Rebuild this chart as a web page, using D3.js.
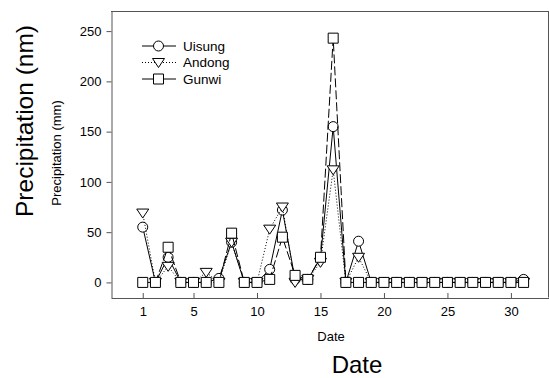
<html>
<head>
<script src="https://d3js.org/d3.v7.min.js"></script>
<style>
  body { margin: 0; background: #fff; }
  text { font-family: "Liberation Sans", Arial, sans-serif; fill: #000; }
</style>
</head>
<body>
<div id="chart"></div>
<script>
var days = d3.range(1, 32);
var uisung = [55, 0, 25, 0, 0, 0, 4, 40, 0, 0, 13, 72, 3, 3, 24, 155, 0, 41, 0, 0, 0, 0, 0, 0, 0, 0, 0, 0, 0, 0, 3];
var andong = [69, 0, 16, 0, 0, 10, 0, 40, 0, 0, 53, 75, 0, 3, 20, 112, 0, 25, 0, 0, 0, 0, 0, 0, 0, 0, 0, 0, 0, 0, 0];
var gunwi  = [0, 0, 35, 0, 0, 0, 0, 49, 0, 0, 3, 45, 7, 3, 25, 243, 0, 0, 0, 0, 0, 0, 0, 0, 0, 0, 0, 0, 0, 0, 0];
var xTicks = [1, 5, 10, 15, 20, 25, 30];
var yTicks = [0, 50, 100, 150, 200, 250];

var series = [
  {name: "Uisung", values: uisung, dash: null, marker: "circle"},
  {name: "Andong", values: andong, dash: "1,2", marker: "triangle"},
  {name: "Gunwi", values: gunwi, dash: "9,3", marker: "square"}
];

var width = 549, height = 378;
var m = {left: 111, right: 549, top: 11, bottom: 297.5};

var svg = d3.select("#chart").append("svg")
  .attr("width", width)
  .attr("height", height);

var x = d3.scaleLinear().domain([-1.5, 33]).range([m.left, m.right]);
var y = d3.scaleLinear().domain([-15, 270]).range([m.bottom, m.top]);

// frame
var frame = "#555";
svg.append("line").attr("x1", m.left).attr("x2", m.right).attr("y1", m.top + 0.5).attr("y2", m.top + 0.5).attr("stroke", frame);
svg.append("line").attr("x1", m.right - 0.5).attr("x2", m.right - 0.5).attr("y1", m.top).attr("y2", m.bottom).attr("stroke", frame);

// y axis, ticks outward
var yAxis = svg.append("g")
  .attr("transform", "translate(" + (m.left + 0.5) + ",0)")
  .call(d3.axisLeft(y).tickValues(yTicks).tickSize(5).tickPadding(5).tickSizeOuter(0));
// x axis, ticks inward
var xAxis = svg.append("g")
  .attr("transform", "translate(0," + (m.bottom + 0.5) + ")")
  .call(d3.axisBottom(x).tickValues(xTicks).tickSizeInner(-5).tickSizeOuter(0).tickPadding(10));

[xAxis, yAxis].forEach(function(a) {
  a.select(".domain").attr("stroke", frame);
  a.selectAll(".tick line").attr("stroke", frame);
  a.selectAll("text").style("font-size", "13px").attr("fill", "#000");
});
// the "up" ticks need their labels kept below the line
xAxis.selectAll(".tick text").attr("y", 9).attr("dy", "0.71em");

function drawMarker(g, type, cx, cy) {
  var s = g.append("path")
    .attr("fill", "#fff")
    .attr("stroke", "#000")
    .attr("stroke-width", 1);
  if (type == "circle") {
    s.attr("d", d3.symbol().type(d3.symbolCircle).size(Math.PI * 25)())
     .attr("transform", "translate(" + cx + "," + cy + ")");
  } else if (type == "square") {
    s.attr("d", d3.symbol().type(d3.symbolSquare).size(100)())
     .attr("transform", "translate(" + cx + "," + cy + ")");
  } else {
    s.attr("d", "M" + (cx - 6) + "," + (cy - 4) + "L" + (cx + 6) + "," + (cy - 4) + "L" + cx + "," + (cy + 5) + "Z");
  }
}

var line = d3.line()
  .x(function(d, i) { return x(days[i]); })
  .y(function(d) { return y(d); });

series.forEach(function(s) {
  var g = svg.append("g");
  g.append("path")
    .attr("d", line(s.values))
    .attr("fill", "none")
    .attr("stroke", "#000")
    .attr("stroke-width", 1)
    .attr("stroke-dasharray", s.dash);
  s.values.forEach(function(v, i) {
    drawMarker(g, s.marker, x(days[i]), y(v));
  });
});

// legend
var legend = svg.append("g");
series.forEach(function(s, i) {
  var ly = 46 + i * 16.5;
  legend.append("line")
    .attr("x1", 142).attr("x2", 176).attr("y1", ly).attr("y2", ly)
    .attr("stroke", "#000")
    .attr("stroke-dasharray", s.dash == "9,3" ? null : s.dash);
  drawMarker(legend, s.marker, 158.5, ly);
  legend.append("text")
    .attr("x", 183).attr("y", ly)
    .attr("dy", "0.35em")
    .style("font-size", "13.5px")
    .text(s.name);
});

// axis titles
svg.append("text")
  .attr("x", 331).attr("y", 341)
  .attr("text-anchor", "middle")
  .style("font-size", "13px")
  .text("Date");
svg.append("text")
  .attr("x", 357).attr("y", 373)
  .attr("text-anchor", "middle")
  .style("font-size", "24px")
  .text("Date");
svg.append("text")
  .attr("transform", "translate(61,153) rotate(-90)")
  .attr("text-anchor", "middle")
  .style("font-size", "13px")
  .text("Precipitation (mm)");
svg.append("text")
  .attr("transform", "translate(33,121) rotate(-90)")
  .attr("text-anchor", "middle")
  .style("font-size", "24.5px")
  .text("Precipitation (nm)");
</script>
</body>
</html>
